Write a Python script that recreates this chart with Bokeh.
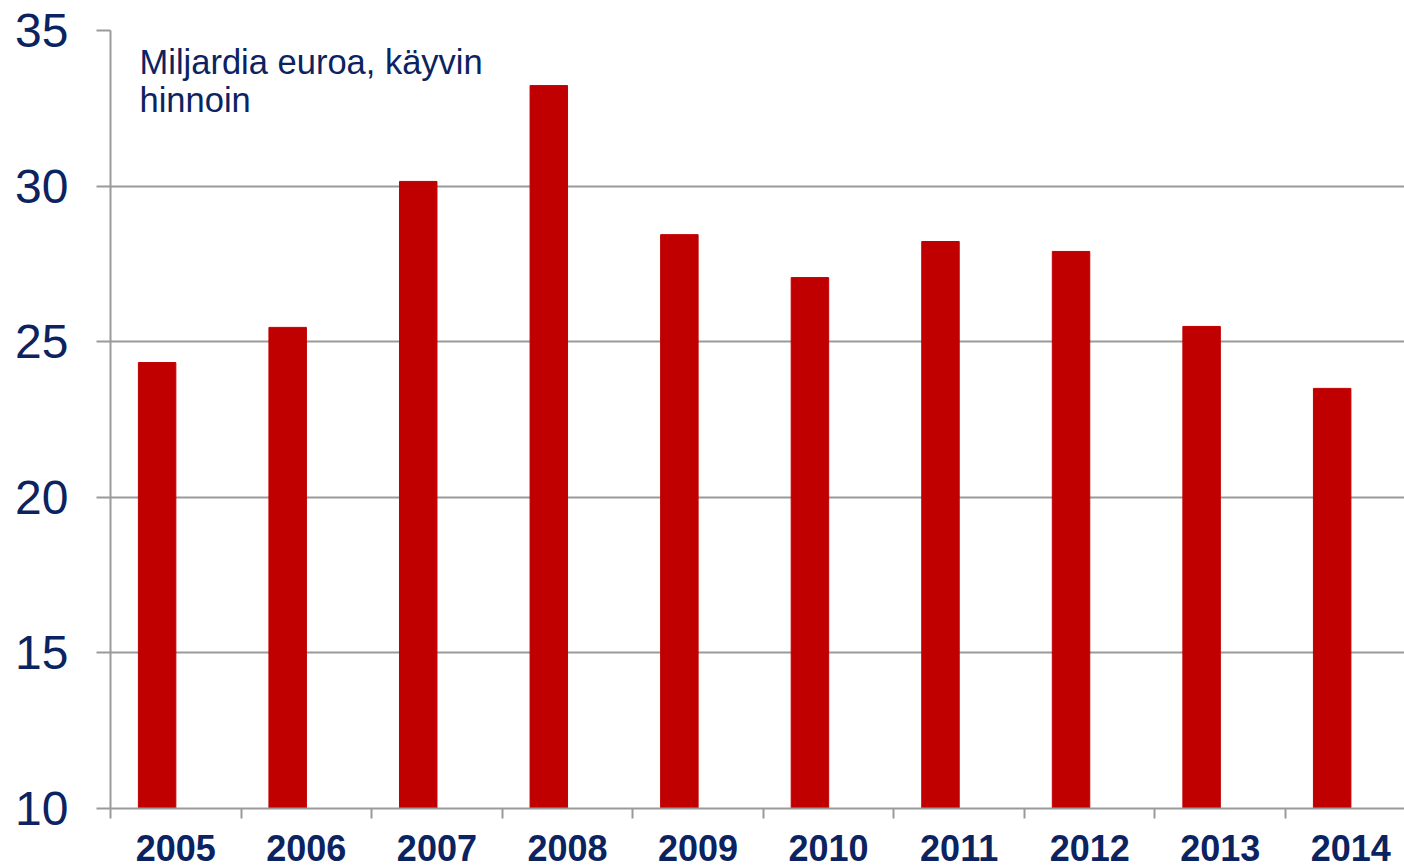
from bokeh.plotting import figure
from bokeh.models import Range1d, FixedTicker, Label, ColumnDataSource
from bokeh.embed import file_html
from bokeh.resources import INLINE

years = ["2005", "2006", "2007", "2008", "2009", "2010", "2011", "2012", "2013", "2014"]
values = [24.33, 25.46, 30.15, 33.23, 28.44, 27.06, 28.22, 27.90, 25.49, 23.50]
y_ticks = [10, 15, 20, 25, 30, 35]
note_lines = ["Miljardia euroa, käyvin", "hinnoin"]

NAVY = "#0b2360"
RED = "#C00000"
GRAY = "#9a9a9a"
FONT = "Liberation Sans"

idx = list(range(len(years)))
src = ColumnDataSource(dict(x=[i + 0.357 for i in idx], top=values, bottom=[10] * len(values)))

p = figure(width=1404, height=868, output_backend="svg", toolbar_location=None,
           x_range=Range1d(0, 9.911), y_range=Range1d(10, 35),
           min_border_left=110, min_border_right=0, min_border_top=30, min_border_bottom=60)
p.outline_line_color = None
p.background_fill_color = "white"

p.vbar(x="x", top="top", bottom="bottom", width=0.287, color=RED, source=src)

# x axis
xa = p.xaxis[0]
xa.ticker = FixedTicker(ticks=[i + 0.5 for i in idx], minor_ticks=list(range(len(years) + 1)))
xa.major_label_overrides = {i + 0.5: y for i, y in zip(idx, years)}
xa.major_tick_line_color = None
xa.major_tick_out = 0
xa.major_tick_in = 0
xa.minor_tick_line_color = GRAY
xa.minor_tick_line_width = 2
xa.minor_tick_out = 10
xa.minor_tick_in = 0
xa.axis_line_color = GRAY
xa.axis_line_width = 2
xa.major_label_text_font = FONT
xa.major_label_text_font_style = "bold"
xa.major_label_text_font_size = "36px"
xa.major_label_text_color = NAVY
xa.major_label_standoff = 16

# y axis
ya = p.yaxis[0]
ya.ticker = FixedTicker(ticks=y_ticks)
ya.major_tick_line_color = GRAY
ya.major_tick_line_width = 2
ya.major_tick_out = 14
ya.major_tick_in = 0
ya.minor_tick_line_color = None
ya.axis_line_color = GRAY
ya.axis_line_width = 2
ya.major_label_text_font = FONT
ya.major_label_text_font_size = "48px"
ya.major_label_text_color = NAVY
ya.major_label_standoff = 28

p.xgrid.grid_line_color = None
p.ygrid.ticker = FixedTicker(ticks=y_ticks)
p.ygrid.grid_line_color = GRAY
p.ygrid.grid_line_width = 2

for line, yy in zip(note_lines, [34.6, 33.38]):
    p.add_layout(Label(x=0.222, y=yy, text=line, text_baseline="top", text_align="left",
                       text_font=FONT, text_font_size="34.5px", text_color=NAVY))

open("out.html", "w").write(file_html(p, INLINE))
